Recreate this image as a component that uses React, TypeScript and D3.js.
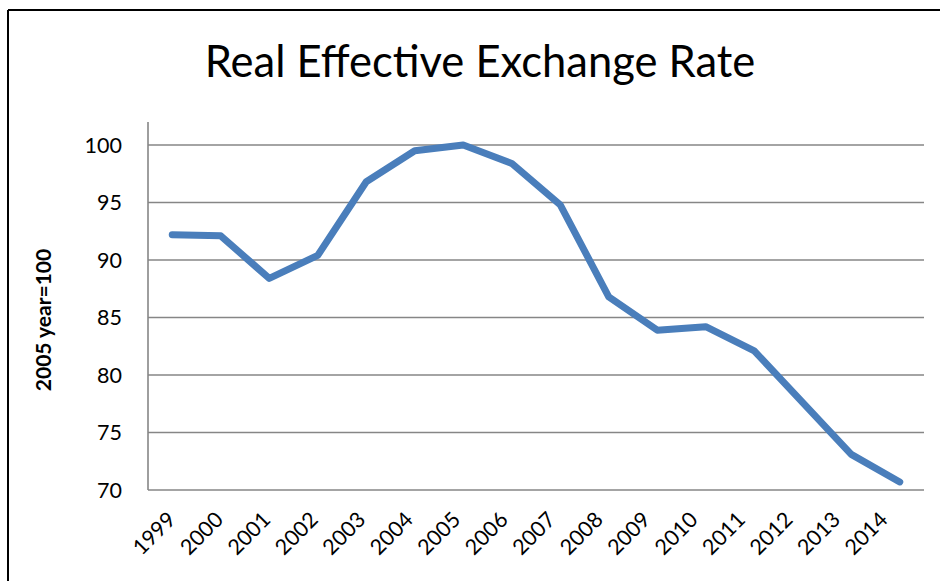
import React from "react";
import * as d3 from "d3";

const years = ["1999","2000","2001","2002","2003","2004","2005","2006","2007","2008","2009","2010","2011","2012","2013","2014"];
const reer = [92.2, 92.1, 88.4, 90.4, 96.8, 99.5, 100, 98.4, 94.8, 86.8, 83.9, 84.2, 82.1, 77.6, 73.1, 70.7];
const yTicks = [70, 75, 80, 85, 90, 95, 100];
const titleText = "Real Effective Exchange Rate";
const yLabel = "2005 year=100";

const W = 940, H = 581;
const left = 148, right = 924, top = 145, bottom = 490;
const font = "Lato, 'Open Sans', sans-serif";

export default function App() {
  const x = d3.scaleBand<string>().domain(years).range([left, right]).padding(0);
  const y = d3.scaleLinear().domain([70, 100]).range([bottom, top]);
  const xl = d3.scalePoint<string>().domain(years).range([177, 889]);
  const cx = (d: string) => (x(d) as number) + x.bandwidth() / 2;
  const line = d3.line<number>().x((_, i) => cx(years[i])).y((v) => y(v));

  return (
    <svg width={W} height={H} style={{ position: "absolute", left: 0, top: 0, background: "#fff" }} fontFamily={font}>
      <rect x={0} y={0} width={W} height={H} fill="#fff" />
      <line x1={8} y1={10} x2={W} y2={10} stroke="#000" strokeWidth={2} />
      <line x1={8} y1={10} x2={8} y2={H} stroke="#000" strokeWidth={2} />
      <text x={480} y={77} textAnchor="middle" fontSize={43.5} fill="#000">{titleText}</text>
      {yTicks.map((t) => (
        <g key={t}>
          <line x1={left} x2={right} y1={y(t)} y2={y(t)} stroke="#868686" strokeWidth={1.6} />
          <text x={122} y={y(t)} dy="0.36em" textAnchor="end" fontSize={21.5} fill="#000">{t}</text>
        </g>
      ))}
      <line x1={left} x2={left} y1={122} y2={bottom} stroke="#868686" strokeWidth={1.6} />
      <text transform={`translate(51,320) rotate(-90)`} textAnchor="middle" fontSize={21} fontWeight="bold" fill="#000">{yLabel}</text>
      {years.map((yr) => (
        <text key={yr} transform={`translate(${xl(yr)},${521}) rotate(-45)`} textAnchor="end" fontSize={21.5} fill="#000">{yr}</text>
      ))}
      <path d={line(reer) || ""} fill="none" stroke="#4a7ebb" strokeWidth={7} strokeLinecap="round" strokeLinejoin="round" />
    </svg>
  );
}
